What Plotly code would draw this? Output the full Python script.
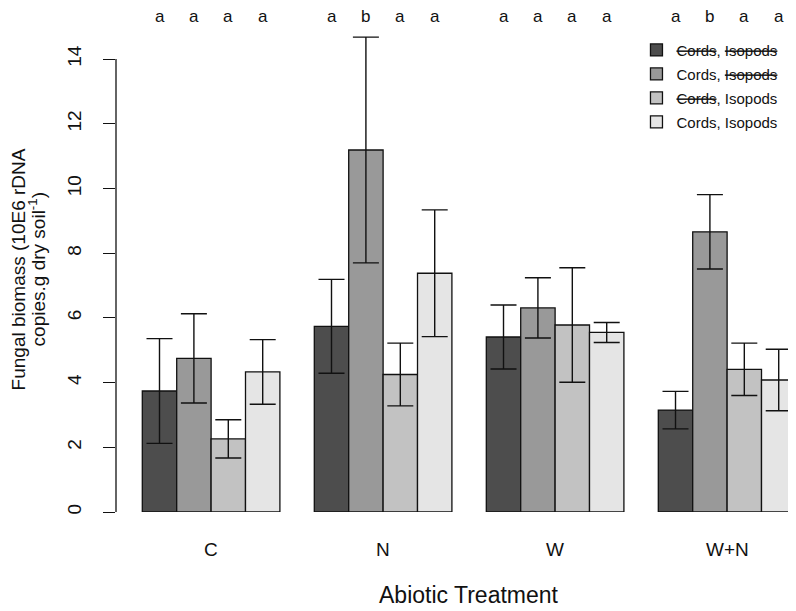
import plotly.graph_objects as go

treatments = ["C", "N", "W", "W+N"]
series_names = ["<s>Cords</s>, <s>Isopods</s>", "Cords, <s>Isopods</s>",
                "<s>Cords</s>, Isopods", "Cords, Isopods"]
series_colors = ["#4D4D4D", "#999999", "#C2C2C2", "#E5E5E5"]

# means per series across treatments C, N, W, W+N
mean_s1 = [3.74, 5.74, 5.41, 3.15]
mean_s2 = [4.75, 11.19, 6.31, 8.66]
mean_s3 = [2.26, 4.25, 5.78, 4.41]
mean_s4 = [4.33, 7.38, 5.55, 4.08]
# standard errors
se_s1 = [1.62, 1.45, 0.99, 0.58]
se_s2 = [1.38, 3.49, 0.93, 1.15]
se_s3 = [0.59, 0.97, 1.77, 0.81]
se_s4 = [1.00, 1.96, 0.31, 0.95]
# significance letters per treatment (series 1..4)
letters_C = ["a", "a", "a", "a"]
letters_N = ["a", "b", "a", "a"]
letters_W = ["a", "a", "a", "a"]
letters_WN = ["a", "b", "a", "a"]

y_ticks = [0, 2, 4, 6, 8, 10, 12, 14]

means = [mean_s1, mean_s2, mean_s3, mean_s4]
ses = [se_s1, se_s2, se_s3, se_s4]
letters = [letters_C, letters_N, letters_W, letters_WN]

FONT = "Liberation Sans, Arial, sans-serif"
INK = "#111111"

# R barplot layout: bar width 1, gap 1 between groups
def bar_x(g, j):
    return 1 + 5 * g + j + 0.5

fig = go.Figure()
for j in range(4):
    fig.add_trace(go.Bar(
        x=[bar_x(g, j) for g in range(4)],
        y=means[j],
        width=1.0,
        name=series_names[j],
        legendgroup=f"g{j}",
        cliponaxis=False,
        marker=dict(color=series_colors[j], line=dict(color=INK, width=1.3)),
        error_y=dict(type="data", array=ses[j], visible=True,
                     color=INK, thickness=1.4, width=13),
    ))

annotations = []
for g in range(4):
    for j in range(4):
        annotations.append(dict(
            x=bar_x(g, j), xref="x", y=1.0, yref="paper", yshift=14,
            text=letters[g][j], showarrow=False, yanchor="middle",
            font=dict(family=FONT, size=17, color=INK)))
    annotations.append(dict(
        x=bar_x(g, 1.5), xref="x", y=0, yref="paper", yshift=-37,
        text=treatments[g], showarrow=False, yanchor="middle",
        font=dict(family=FONT, size=19, color=INK)))

annotations.append(dict(
    x=0, xref="paper", xshift=-98, y=7.5, yref="y",
    text="Fungal biomass (10E6 rDNA",
    textangle=-90, showarrow=False, xanchor="center", yanchor="middle",
    font=dict(family=FONT, size=19, color=INK)))
annotations.append(dict(
    x=0, xref="paper", xshift=-79, y=7.5, yref="y",
    text="copies.g dry soil<sup>-1</sup>)",
    textangle=-90, showarrow=False, xanchor="center", yanchor="middle",
    font=dict(family=FONT, size=19, color=INK)))

annotations.append(dict(
    x=10.5, xref="x", y=0, yref="paper", yshift=-83,
    text="Abiotic Treatment", showarrow=False, xanchor="center", yanchor="middle",
    font=dict(family=FONT, size=23, color=INK)))

fig.update_layout(
    width=796, height=611,
    margin=dict(l=108, r=0, t=22.3, b=106.7, autoexpand=False),
    paper_bgcolor="white", plot_bgcolor="white",
    barmode="overlay",
    showlegend=True,
    legend=dict(x=0.7565, xanchor="left", y=0.9923, yanchor="top",
                font=dict(family=FONT, size=15, color=INK),
                tracegroupgap=1.5, bgcolor="rgba(0,0,0,0)"),
    annotations=annotations,
    shapes=[dict(type="line", xref="paper", x0=0, x1=0, yref="y", y0=0, y1=14,
                 line=dict(color=INK, width=1.3))],
    font=dict(family=FONT, color=INK),
)
fig.update_xaxes(range=[0.2355, 20.235], showline=False, showgrid=False, zeroline=False,
                 showticklabels=False, ticks="")
fig.update_yaxes(range=[0, 14.9], showline=False, showgrid=False, zeroline=False,
                 tickvals=y_ticks, ticks="outside", ticklen=12, tickwidth=1.3,
                 tickcolor=INK, tickangle=-90,
                 tickfont=dict(family=FONT, size=19), ticklabelstandoff=14)
fig.write_html("out.html")
